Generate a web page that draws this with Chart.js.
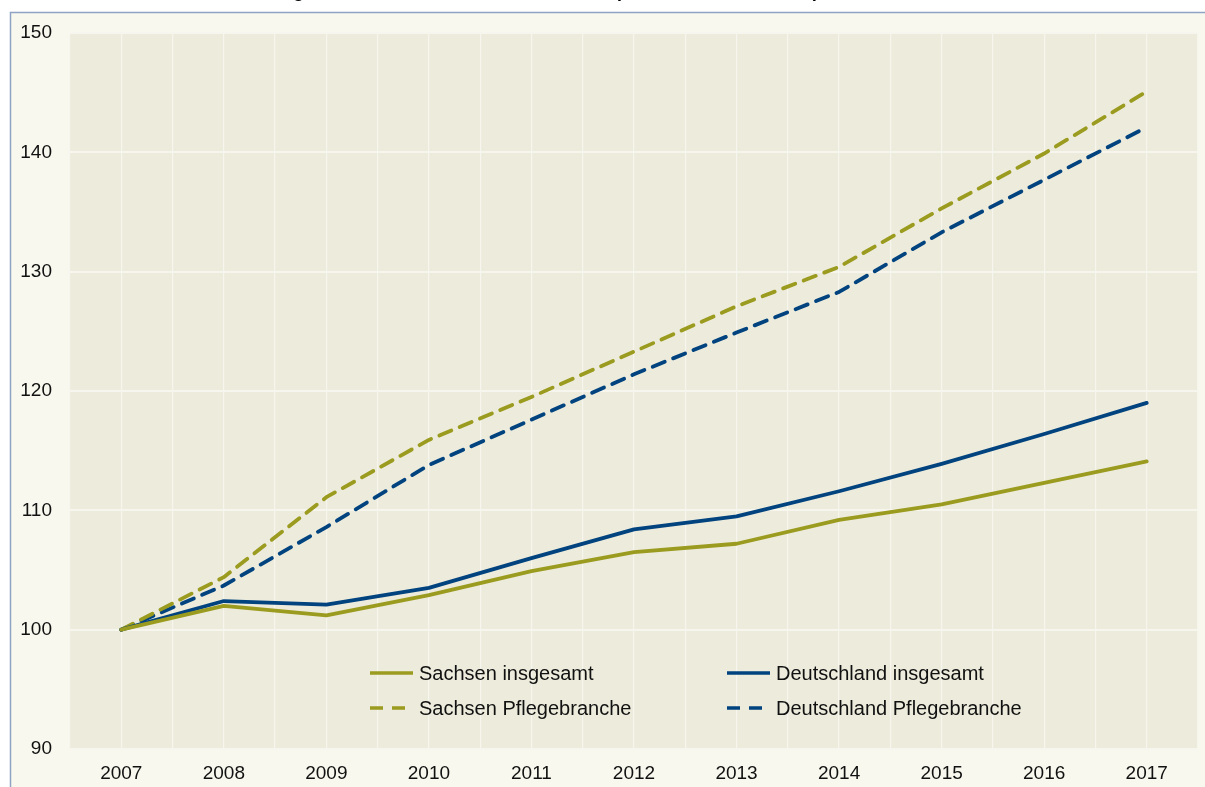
<!DOCTYPE html>
<html>
<head>
<meta charset="utf-8">
<script src="https://cdn.jsdelivr.net/npm/chart.js@4.4.0/dist/chart.umd.min.js"></script>
<style>
  html, body { margin: 0; padding: 0; background: #ffffff; overflow: hidden; }
  #wrap { position: relative; width: 1205px; height: 787px; overflow: hidden; }
  #title { position: absolute; left: 198px; top: -18px; font: bold 18px "Liberation Sans", Arial, sans-serif; line-height: 18px; color: #000; white-space: nowrap; }
  canvas { position: absolute; left: 0; top: 0; }
</style>
</head>
<body>
<div id="wrap">
  <canvas id="c" width="1205" height="787"></canvas>
  <div id="title">Entwicklung der durchschnittlichen Bruttolöhne (Index: Jahr 2007 = 100)</div>
</div>
<script>
const years = [2007, 2008, 2009, 2010, 2011, 2012, 2013, 2014, 2015, 2016, 2017];
const sachsenInsgesamt = [100, 102.0, 101.2, 102.9, 104.9, 106.5, 107.2, 109.2, 110.5, 112.3, 114.1];
const deutschlandInsgesamt = [100, 102.4, 102.1, 103.5, 106.0, 108.4, 109.5, 111.6, 113.9, 116.4, 119.0];
const sachsenPflege = [100, 104.4, 111.1, 115.9, 119.5, 123.3, 127.1, 130.4, 135.3, 139.9, 145.1];
const deutschlandPflege = [100, 103.7, 108.6, 113.8, 117.6, 121.4, 124.9, 128.3, 133.3, 137.7, 142.1];
const seriesNames = ["Sachsen insgesamt", "Deutschland insgesamt", "Sachsen Pflegebranche", "Deutschland Pflegebranche"];
const yTicks = [90, 100, 110, 120, 130, 140, 150];

const OLIVE = "#9a9b1f";
const NAVY = "#00437f";
const FONT = '"Liberation Sans", Arial, sans-serif';

function pts(vals) { return years.map((y, i) => ({ x: y, y: vals[i] })); }

const bgPlugin = {
  id: 'bg',
  beforeDraw(chart) {
    const ctx = chart.ctx;
    const a = chart.chartArea;
    ctx.save();
    ctx.fillStyle = '#ffffff';
    ctx.fillRect(0, 0, chart.width, chart.height);
    ctx.fillStyle = '#f8f8ee';
    ctx.fillRect(10, 12, chart.width - 10, chart.height - 12);
    ctx.strokeStyle = '#8fa3c4';
    ctx.lineWidth = 1.5;
    ctx.beginPath();
    ctx.moveTo(10.5, chart.height);
    ctx.lineTo(10.5, 12.5);
    ctx.lineTo(chart.width, 12.5);
    ctx.stroke();
    ctx.fillStyle = '#edebdb';
    ctx.fillRect(a.left, a.top, a.right - a.left, a.bottom - a.top);
    ctx.restore();
  }
};

const legendPlugin = {
  id: 'customLegend',
  afterDatasetsDraw(chart) {
    const ctx = chart.ctx;
    const items = [
      { ds: 0, x: 370, y: 673 },
      { ds: 1, x: 727, y: 673 },
      { ds: 2, x: 370, y: 708 },
      { ds: 3, x: 727, y: 708 }
    ];
    ctx.save();
    ctx.font = '20px ' + FONT;
    ctx.textBaseline = 'middle';
    items.forEach(it => {
      const d = chart.data.datasets[it.ds];
      ctx.strokeStyle = d.borderColor;
      ctx.lineWidth = 3.5;
      ctx.lineCap = 'butt';
      ctx.setLineDash(d.borderDash || []);
      ctx.beginPath();
      ctx.moveTo(it.x, it.y);
      ctx.lineTo(it.x + 43, it.y);
      ctx.stroke();
      ctx.setLineDash([]);
      ctx.fillStyle = '#111111';
      ctx.fillText(d.label, it.x + 49, it.y + 1);
    });
    ctx.restore();
  }
};

new Chart(document.getElementById('c'), {
  type: 'line',
  data: {
    datasets: [
      { label: seriesNames[0], data: pts(sachsenInsgesamt), borderColor: OLIVE, borderWidth: 3.8 },
      { label: seriesNames[1], data: pts(deutschlandInsgesamt), borderColor: NAVY, borderWidth: 3.8 },
      { label: seriesNames[2], data: pts(sachsenPflege), borderColor: OLIVE, borderWidth: 3.8, borderDash: [13, 9] },
      { label: seriesNames[3], data: pts(deutschlandPflege), borderColor: NAVY, borderWidth: 3.8, borderDash: [13, 9] }
    ]
  },
  options: {
    responsive: false,
    animation: false,
    devicePixelRatio: 1,
    layout: { padding: { left: 0, right: 7, top: 33, bottom: 0 } },
    elements: { point: { radius: 0 }, line: { tension: 0, borderCapStyle: 'round', borderJoinStyle: 'round' } },
    plugins: { legend: { display: false }, tooltip: { enabled: false }, title: { display: false } },
    scales: {
      x: {
        type: 'linear',
        min: 2006.5,
        max: 2017.5,
        afterBuildTicks(scale) {
          const t = [];
          for (let v = 2006.5; v <= 2017.5 + 1e-9; v += 0.5) t.push({ value: v });
          scale.ticks = t;
        },
        afterFit(scale) { scale.height = 38; scale.paddingRight = 0; scale.paddingLeft = 0; },
        grid: { color: '#f7f6ee', lineWidth: 1.2, drawTicks: false },
        border: { display: false },
        ticks: {
          autoSkip: false,
          maxRotation: 0,
          padding: 13,
          color: '#111111',
          font: { family: FONT, size: 19 },
          callback: v => (Number.isInteger(v) && years.includes(v)) ? String(v) : ''
        }
      },
      y: {
        min: 90,
        max: 150,
        afterBuildTicks(scale) { scale.ticks = yTicks.map(v => ({ value: v })); },
        afterFit(scale) { scale.width = 70; },
        grid: { color: '#f7f6ee', lineWidth: 2, drawTicks: false },
        border: { display: false },
        ticks: {
          padding: 18,
          color: '#111111',
          font: { family: FONT, size: 19 }
        }
      }
    }
  },
  plugins: [bgPlugin, legendPlugin]
});
</script>
</body>
</html>
